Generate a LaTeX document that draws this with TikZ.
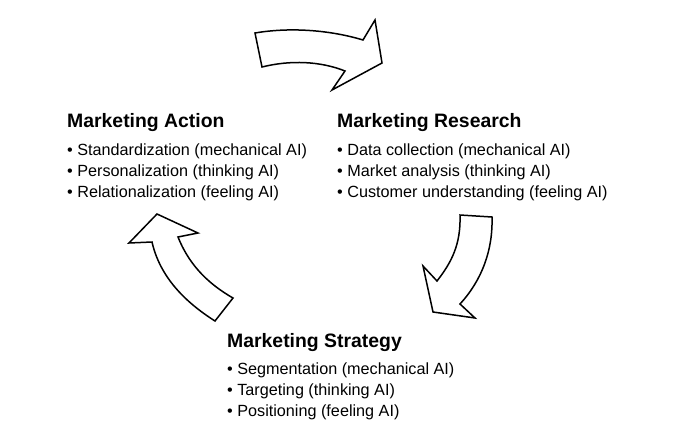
\documentclass[tikz,border=0pt]{standalone}
\usepackage{fontspec}
\setmainfont{Liberation Sans}
\begin{document}
\begin{tikzpicture}[x=1pt,y=-1pt,
  title/.style={anchor=base west,inner sep=0pt,font=\fontsize{19.4}{22}\selectfont\bfseries},
  item/.style={anchor=base west,inner sep=0pt,font=\fontsize{16.2}{18}\selectfont},
  bigarrow/.style={draw=black,line width=1.5pt,fill=white,line join=miter}]
\useasboundingbox (0,0) rectangle (685,445);
% arrows
\draw[bigarrow] (255,33) .. controls (290,27) and (330,30) .. (363,40) -- (375,20) -- (382,63) -- (332,90) -- (345,71) .. controls (320,61) and (290,60) .. (262,67) -- cycle;
\draw[bigarrow] (460,215) -- (492,217) .. controls (493,250) and (482,280) .. (460,304) -- (475,318) -- (433,312) -- (423,266) -- (437,281) .. controls (451,263) and (461,245) .. cycle;
\draw[bigarrow] (157,214) -- (198,233) -- (178,237) .. controls (188,262) and (205,282) .. (233,298) -- (215,321) .. controls (185,302) and (160,277) .. (152,242) -- (129,243) -- cycle;
% Marketing Action
\node[title] (at) at (67,127) {Marketing Action};
\node[item] (a1) at (67,155) {• Standardization (mechanical AI)};
\node[item] (a2) at (67,176) {• Personalization (thinking AI)};
\node[item] (a3) at (67,197) {• Relationalization (feeling AI)};
% Marketing Research
\node[title] (rt) at (337,127) {Marketing Research};
\node[item] (r1) at (337,155) {• Data collection (mechanical AI)};
\node[item] (r2) at (337,176) {• Market analysis (thinking AI)};
\node[item] (r3) at (337,197) {• Customer understanding (feeling AI)};
% Marketing Strategy
\node[title] (st) at (227,347) {Marketing Strategy};
\node[item] (s1) at (227,374) {• Segmentation (mechanical AI)};
\node[item] (s2) at (227,395) {• Targeting (thinking AI)};
\node[item] (s3) at (227,416) {• Positioning (feeling AI)};
\end{tikzpicture}
\end{document}
